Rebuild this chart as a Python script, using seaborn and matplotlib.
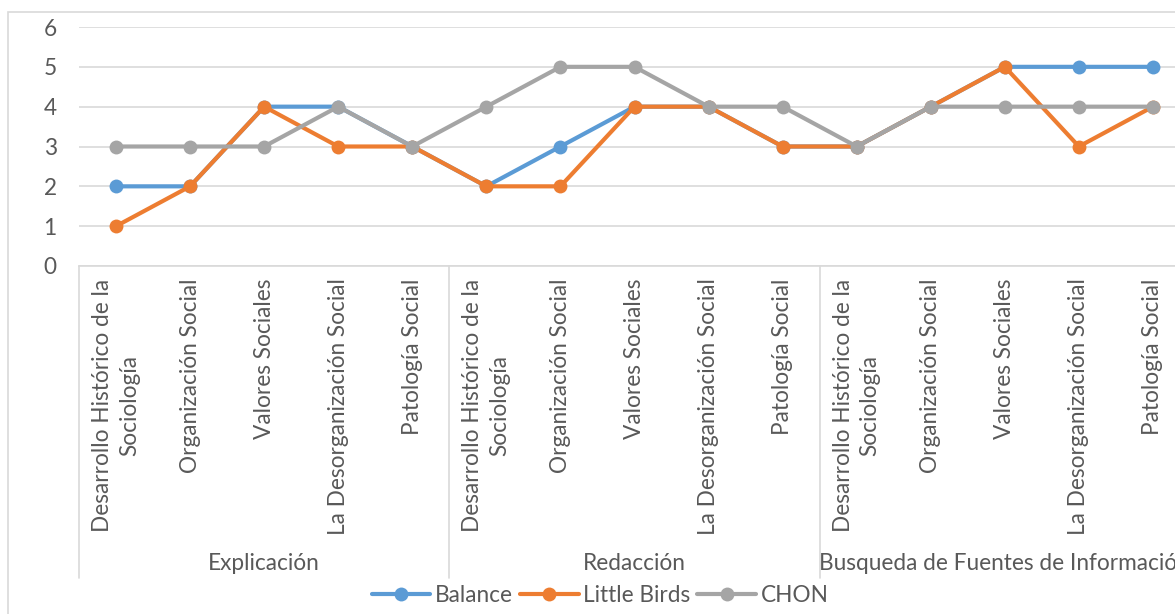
import matplotlib
matplotlib.use("Agg")
import matplotlib.pyplot as plt
import matplotlib.transforms as mtransforms
from matplotlib.patches import Rectangle
from matplotlib.lines import Line2D
import seaborn as sns
import pandas as pd

groups = ["Explicación", "Redacción", "Busqueda de Fuentes de Información"]
topics = ["Desarrollo Histórico de la\nSociología", "Organización Social",
          "Valores Sociales", "La Desorganización Social", "Patología Social"]
series_names = ["Balance", "Little Birds", "CHON"]
balance = [2, 2, 4, 4, 3, 2, 3, 4, 4, 3, 3, 4, 5, 5, 5]
little_birds = [1, 2, 4, 3, 3, 2, 2, 4, 4, 3, 3, 4, 5, 3, 4]
chon = [3, 3, 3, 4, 3, 4, 5, 5, 4, 4, 3, 4, 4, 4, 4]
y_ticks = [0, 1, 2, 3, 4, 5, 6]
colors = ["#5B9BD5", "#ED7D31", "#A5A5A5"]

sns.set_theme(style="white")
plt.rcParams['font.family'] = ['Lato', 'DejaVu Sans']
TXT = "#595959"
GRID = "#D9D9D9"
FS = 16.3

W, H = 1175, 614
fig = plt.figure(figsize=(W / 100, H / 100), dpi=100)
ax = fig.add_axes([79 / W, (H - 266) / H, 1111 / W, 239 / H])

labels = [t for g in groups for t in topics]
positions = list(range(len(labels)))
values = [balance, little_birds, chon]
rows = []
for name, vals in zip(series_names, values):
    for p, v in zip(positions, vals):
        rows.append({"pos": p, "value": v, "series": name})
df = pd.DataFrame(rows)

for name, col in zip(series_names, colors):
    sub = df[df["series"] == name]
    sns.lineplot(data=sub, x="pos", y="value", ax=ax, color=col, linewidth=3.0,
                 marker="o", markersize=10, markeredgewidth=0, sort=False,
                 legend=False, zorder=3)

ax.set_xlim(-0.5, len(labels) - 0.5)
ax.set_ylim(0, 6)
ax.set_yticks(y_ticks)
ax.set_yticklabels([str(t) for t in y_ticks], fontsize=FS, color=TXT)
ax.set_xticks(positions)
ax.set_xticklabels(labels, rotation=90, fontsize=FS, color=TXT,
                   va="top", ha="center", multialignment="center",
                   linespacing=1.35)
ax.tick_params(axis="x", length=0, pad=9)
ax.tick_params(axis="y", length=0, pad=16)
ax.set_xlabel("")
ax.set_ylabel("")
ax.yaxis.grid(True, color=GRID, linewidth=1.2)
ax.xaxis.grid(False)
for s in ["left", "right", "top"]:
    ax.spines[s].set_visible(False)
ax.spines["bottom"].set_color(GRID)
ax.spines["bottom"].set_linewidth(1.2)
ax.set_axisbelow(True)

trans = mtransforms.blended_transform_factory(ax.transData, ax.transAxes)
y_sep_bottom = (266 - 578) / 239
for i in range(len(groups) + 1):
    xs = i * len(topics) - 0.5
    ax.add_line(Line2D([xs, xs], [0, y_sep_bottom], transform=trans,
                       color=GRID, linewidth=1.2, clip_on=False))
for i, g in enumerate(groups):
    cx = i * len(topics) + (len(topics) - 1) / 2
    ax.text(cx, (266 - 563) / 239, g, transform=trans, ha="center",
            va="center", fontsize=FS, color=TXT, clip_on=False)

handles = [Line2D([0], [0], color=c, linewidth=3.0, marker="o", markersize=10,
                  markeredgewidth=0) for c in colors]
leg = fig.legend(handles, series_names, loc="center",
                 bbox_to_anchor=(600 / W, 1 - 595 / H), ncol=3, frameon=False,
                 fontsize=FS, handlelength=2.6, handletextpad=0.2,
                 columnspacing=0.3, labelcolor=TXT, borderpad=0.1)

fig.patches.append(Rectangle((8 / W, -0.1), 1.2, (H - 12) / H + 0.1,
                             transform=fig.transFigure, fill=False,
                             edgecolor=GRID, linewidth=1.2))

fig.savefig("out.png", dpi=100)
